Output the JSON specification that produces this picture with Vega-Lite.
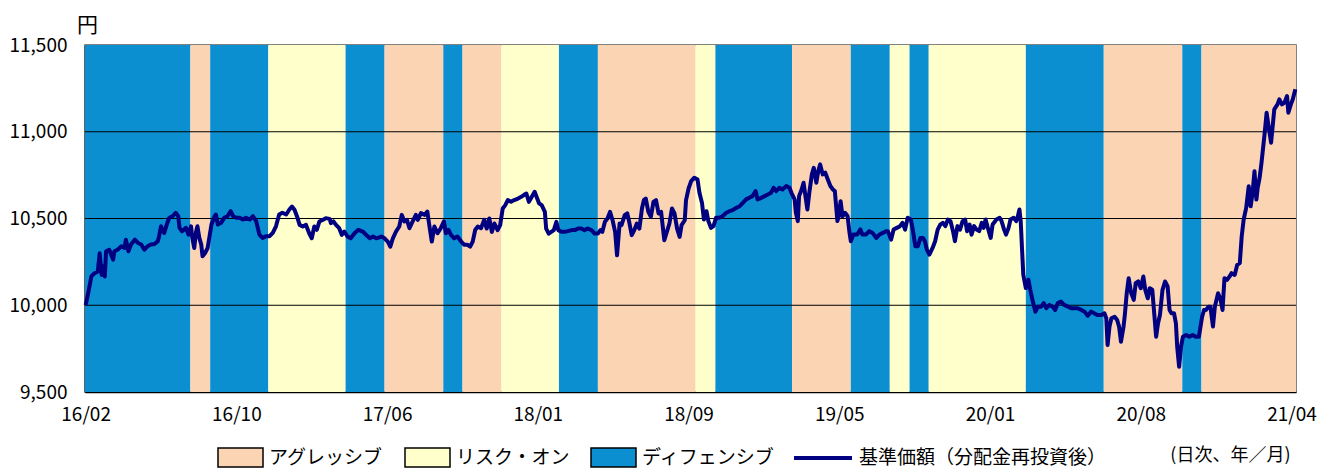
{
"$schema": "https://vega.github.io/schema/vega-lite/v6.json",
"width": 1211, "height": 347,
"autosize": {"type": "none"},
"padding": {"left": 85, "top": 45, "right": 27, "bottom": 77},
"background": "white",
"config": {"font": "Noto Sans CJK JP", "view": {"stroke": "#595959", "strokeWidth": 1.5}},
"datasets": {
"bands": [
{"start":"2016-02-18","end":"2016-08-01","regime":"ディフェンシブ"},
{"start":"2016-08-01","end":"2016-09-01","regime":"アグレッシブ"},
{"start":"2016-09-01","end":"2016-12-01","regime":"ディフェンシブ"},
{"start":"2016-12-01","end":"2017-04-01","regime":"リスク・オン"},
{"start":"2017-04-01","end":"2017-06-01","regime":"ディフェンシブ"},
{"start":"2017-06-01","end":"2017-09-01","regime":"アグレッシブ"},
{"start":"2017-09-01","end":"2017-10-01","regime":"ディフェンシブ"},
{"start":"2017-10-01","end":"2017-12-01","regime":"アグレッシブ"},
{"start":"2017-12-01","end":"2018-03-01","regime":"リスク・オン"},
{"start":"2018-03-01","end":"2018-05-01","regime":"ディフェンシブ"},
{"start":"2018-05-01","end":"2018-10-01","regime":"アグレッシブ"},
{"start":"2018-10-01","end":"2018-11-01","regime":"リスク・オン"},
{"start":"2018-11-01","end":"2019-03-01","regime":"ディフェンシブ"},
{"start":"2019-03-01","end":"2019-06-01","regime":"アグレッシブ"},
{"start":"2019-06-01","end":"2019-08-01","regime":"ディフェンシブ"},
{"start":"2019-08-01","end":"2019-09-01","regime":"リスク・オン"},
{"start":"2019-09-01","end":"2019-10-01","regime":"ディフェンシブ"},
{"start":"2019-10-01","end":"2020-03-01","regime":"リスク・オン"},
{"start":"2020-03-01","end":"2020-07-01","regime":"ディフェンシブ"},
{"start":"2020-07-01","end":"2020-11-01","regime":"アグレッシブ"},
{"start":"2020-11-01","end":"2020-12-01","regime":"ディフェンシブ"},
{"start":"2020-12-01","end":"2021-04-28","regime":"アグレッシブ"}
],
"grid": [{"v":10000},{"v":10500},{"v":11000}],
"nav": [
{"date":"2016-02-19","value":10000},{"date":"2016-02-23","value":10070},{"date":"2016-02-28","value":10166},{"date":"2016-03-04","value":10185},{"date":"2016-03-09","value":10195},{"date":"2016-03-12","value":10300},{"date":"2016-03-15","value":10175},{"date":"2016-03-17","value":10224},{"date":"2016-03-20","value":10166},{"date":"2016-03-22","value":10311},{"date":"2016-03-27","value":10320},{"date":"2016-04-02","value":10263},{"date":"2016-04-04","value":10311},{"date":"2016-04-09","value":10320},{"date":"2016-04-15","value":10340},{"date":"2016-04-20","value":10330},{"date":"2016-04-22","value":10378},{"date":"2016-04-26","value":10311},{"date":"2016-04-30","value":10350},{"date":"2016-05-06","value":10378},{"date":"2016-05-11","value":10359},{"date":"2016-05-16","value":10350},{"date":"2016-05-21","value":10320},{"date":"2016-05-26","value":10340},{"date":"2016-05-31","value":10350},{"date":"2016-06-06","value":10353},{"date":"2016-06-11","value":10369},{"date":"2016-06-13","value":10398},{"date":"2016-06-16","value":10455},{"date":"2016-06-18","value":10436},{"date":"2016-06-21","value":10417},{"date":"2016-06-25","value":10465},{"date":"2016-06-29","value":10504},{"date":"2016-07-04","value":10513},{"date":"2016-07-09","value":10533},{"date":"2016-07-13","value":10513},{"date":"2016-07-15","value":10446},{"date":"2016-07-19","value":10427},{"date":"2016-07-25","value":10446},{"date":"2016-07-29","value":10407},{"date":"2016-08-02","value":10455},{"date":"2016-08-04","value":10388},{"date":"2016-08-07","value":10330},{"date":"2016-08-10","value":10427},{"date":"2016-08-12","value":10455},{"date":"2016-08-15","value":10388},{"date":"2016-08-18","value":10350},{"date":"2016-08-20","value":10282},{"date":"2016-08-24","value":10301},{"date":"2016-08-28","value":10330},{"date":"2016-08-31","value":10398},{"date":"2016-09-03","value":10465},{"date":"2016-09-08","value":10513},{"date":"2016-09-10","value":10523},{"date":"2016-09-13","value":10465},{"date":"2016-09-18","value":10475},{"date":"2016-09-23","value":10504},{"date":"2016-09-28","value":10513},{"date":"2016-10-03","value":10542},{"date":"2016-10-07","value":10513},{"date":"2016-10-12","value":10504},{"date":"2016-10-17","value":10504},{"date":"2016-10-22","value":10494},{"date":"2016-10-27","value":10504},{"date":"2016-11-02","value":10494},{"date":"2016-11-07","value":10513},{"date":"2016-11-12","value":10485},{"date":"2016-11-17","value":10407},{"date":"2016-11-22","value":10388},{"date":"2016-11-28","value":10398},{"date":"2016-12-03","value":10398},{"date":"2016-12-08","value":10417},{"date":"2016-12-13","value":10455},{"date":"2016-12-18","value":10523},{"date":"2016-12-23","value":10533},{"date":"2016-12-29","value":10523},
{"date":"2017-01-03","value":10552},{"date":"2017-01-07","value":10569},{"date":"2017-01-11","value":10550},{"date":"2017-01-15","value":10512},{"date":"2017-01-19","value":10463},{"date":"2017-01-24","value":10454},{"date":"2017-01-29","value":10463},{"date":"2017-02-03","value":10415},{"date":"2017-02-07","value":10386},{"date":"2017-02-11","value":10454},{"date":"2017-02-15","value":10435},{"date":"2017-02-19","value":10483},{"date":"2017-02-24","value":10492},{"date":"2017-03-01","value":10502},{"date":"2017-03-07","value":10498},{"date":"2017-03-09","value":10473},{"date":"2017-03-13","value":10483},{"date":"2017-03-17","value":10463},{"date":"2017-03-22","value":10444},{"date":"2017-03-26","value":10406},{"date":"2017-03-30","value":10425},{"date":"2017-04-04","value":10396},{"date":"2017-04-09","value":10386},{"date":"2017-04-15","value":10415},{"date":"2017-04-21","value":10435},{"date":"2017-04-28","value":10425},{"date":"2017-05-03","value":10406},{"date":"2017-05-09","value":10386},{"date":"2017-05-14","value":10396},{"date":"2017-05-19","value":10386},{"date":"2017-05-27","value":10396},{"date":"2017-06-01","value":10386},{"date":"2017-06-06","value":10367},{"date":"2017-06-10","value":10338},{"date":"2017-06-14","value":10386},{"date":"2017-06-19","value":10425},{"date":"2017-06-24","value":10454},{"date":"2017-06-28","value":10521},{"date":"2017-07-02","value":10483},{"date":"2017-07-06","value":10492},{"date":"2017-07-10","value":10444},{"date":"2017-07-15","value":10483},{"date":"2017-07-20","value":10521},{"date":"2017-07-23","value":10492},{"date":"2017-07-28","value":10531},{"date":"2017-08-03","value":10521},{"date":"2017-08-07","value":10540},{"date":"2017-08-10","value":10463},{"date":"2017-08-14","value":10367},{"date":"2017-08-18","value":10454},{"date":"2017-08-23","value":10415},{"date":"2017-08-28","value":10444},{"date":"2017-09-02","value":10483},{"date":"2017-09-05","value":10415},{"date":"2017-09-09","value":10435},{"date":"2017-09-13","value":10406},{"date":"2017-09-18","value":10386},{"date":"2017-09-23","value":10396},{"date":"2017-09-29","value":10367},{"date":"2017-10-04","value":10348},{"date":"2017-10-09","value":10348},{"date":"2017-10-13","value":10338},{"date":"2017-10-17","value":10367},{"date":"2017-10-21","value":10435},{"date":"2017-10-25","value":10454},{"date":"2017-10-30","value":10444},{"date":"2017-11-04","value":10492},{"date":"2017-11-08","value":10442},{"date":"2017-11-12","value":10500},{"date":"2017-11-16","value":10423},{"date":"2017-11-20","value":10471},{"date":"2017-11-25","value":10433},{"date":"2017-11-29","value":10462},{"date":"2017-12-03","value":10558},{"date":"2017-12-07","value":10577},{"date":"2017-12-11","value":10606},{"date":"2017-12-16","value":10596},{"date":"2017-12-21","value":10606},{"date":"2017-12-27","value":10615},
{"date":"2018-01-01","value":10625},{"date":"2018-01-05","value":10635},{"date":"2018-01-09","value":10644},{"date":"2018-01-13","value":10596},{"date":"2018-01-16","value":10615},{"date":"2018-01-22","value":10654},{"date":"2018-01-26","value":10615},{"date":"2018-01-29","value":10587},{"date":"2018-02-02","value":10577},{"date":"2018-02-07","value":10538},{"date":"2018-02-09","value":10442},{"date":"2018-02-13","value":10413},{"date":"2018-02-17","value":10423},{"date":"2018-02-21","value":10433},{"date":"2018-02-25","value":10481},{"date":"2018-02-28","value":10433},{"date":"2018-03-05","value":10423},{"date":"2018-03-10","value":10423},{"date":"2018-03-15","value":10427},{"date":"2018-03-21","value":10433},{"date":"2018-03-26","value":10433},{"date":"2018-03-31","value":10442},{"date":"2018-04-05","value":10442},{"date":"2018-04-10","value":10433},{"date":"2018-04-15","value":10442},{"date":"2018-04-21","value":10433},{"date":"2018-04-26","value":10413},{"date":"2018-05-01","value":10413},{"date":"2018-05-05","value":10433},{"date":"2018-05-08","value":10423},{"date":"2018-05-12","value":10481},{"date":"2018-05-16","value":10500},{"date":"2018-05-20","value":10538},{"date":"2018-05-24","value":10490},{"date":"2018-05-28","value":10423},{"date":"2018-05-31","value":10288},{"date":"2018-06-04","value":10471},{"date":"2018-06-07","value":10462},{"date":"2018-06-12","value":10519},{"date":"2018-06-16","value":10529},{"date":"2018-06-19","value":10481},{"date":"2018-06-23","value":10404},{"date":"2018-06-27","value":10433},{"date":"2018-07-01","value":10471},{"date":"2018-07-05","value":10442},{"date":"2018-07-09","value":10558},{"date":"2018-07-12","value":10606},{"date":"2018-07-15","value":10615},{"date":"2018-07-19","value":10538},{"date":"2018-07-23","value":10510},{"date":"2018-07-27","value":10596},{"date":"2018-07-31","value":10606},{"date":"2018-08-04","value":10529},{"date":"2018-08-08","value":10538},{"date":"2018-08-13","value":10375},{"date":"2018-08-17","value":10423},{"date":"2018-08-21","value":10471},{"date":"2018-08-25","value":10558},{"date":"2018-08-29","value":10529},{"date":"2018-09-02","value":10442},{"date":"2018-09-06","value":10394},{"date":"2018-09-09","value":10462},{"date":"2018-09-14","value":10490},{"date":"2018-09-16","value":10606},{"date":"2018-09-20","value":10673},{"date":"2018-09-24","value":10715},{"date":"2018-09-29","value":10735},{"date":"2018-10-04","value":10725},{"date":"2018-10-07","value":10648},{"date":"2018-10-11","value":10590},{"date":"2018-10-14","value":10494},{"date":"2018-10-18","value":10542},{"date":"2018-10-21","value":10485},{"date":"2018-10-25","value":10446},{"date":"2018-10-29","value":10456},{"date":"2018-11-02","value":10504},{"date":"2018-11-07","value":10504},{"date":"2018-11-12","value":10513},{"date":"2018-11-18","value":10533},{"date":"2018-11-23","value":10542},{"date":"2018-11-28","value":10548},{"date":"2018-12-04","value":10562},{"date":"2018-12-09","value":10571},{"date":"2018-12-14","value":10590},{"date":"2018-12-19","value":10610},{"date":"2018-12-24","value":10619},{"date":"2018-12-29","value":10629},
{"date":"2019-01-03","value":10658},{"date":"2019-01-06","value":10610},{"date":"2019-01-12","value":10619},{"date":"2019-01-17","value":10629},{"date":"2019-01-22","value":10638},{"date":"2019-01-27","value":10648},{"date":"2019-01-31","value":10677},{"date":"2019-02-04","value":10658},{"date":"2019-02-09","value":10677},{"date":"2019-02-14","value":10667},{"date":"2019-02-20","value":10687},{"date":"2019-02-25","value":10677},{"date":"2019-02-28","value":10648},{"date":"2019-03-05","value":10610},{"date":"2019-03-07","value":10533},{"date":"2019-03-10","value":10485},{"date":"2019-03-12","value":10629},{"date":"2019-03-16","value":10667},{"date":"2019-03-19","value":10706},{"date":"2019-03-22","value":10629},{"date":"2019-03-25","value":10552},{"date":"2019-03-28","value":10648},{"date":"2019-04-01","value":10754},{"date":"2019-04-04","value":10792},{"date":"2019-04-08","value":10706},{"date":"2019-04-11","value":10773},{"date":"2019-04-14","value":10812},{"date":"2019-04-18","value":10754},{"date":"2019-04-22","value":10764},{"date":"2019-04-26","value":10725},{"date":"2019-04-30","value":10687},{"date":"2019-05-04","value":10667},{"date":"2019-05-07","value":10658},{"date":"2019-05-11","value":10485},{"date":"2019-05-13","value":10513},{"date":"2019-05-16","value":10600},{"date":"2019-05-19","value":10513},{"date":"2019-05-23","value":10533},{"date":"2019-05-27","value":10513},{"date":"2019-05-30","value":10417},{"date":"2019-06-01","value":10369},{"date":"2019-06-05","value":10408},{"date":"2019-06-11","value":10408},{"date":"2019-06-16","value":10437},{"date":"2019-06-19","value":10408},{"date":"2019-06-25","value":10408},{"date":"2019-06-30","value":10427},{"date":"2019-07-05","value":10417},{"date":"2019-07-11","value":10388},{"date":"2019-07-16","value":10408},{"date":"2019-07-21","value":10417},{"date":"2019-07-26","value":10427},{"date":"2019-07-29","value":10427},{"date":"2019-08-03","value":10378},{"date":"2019-08-07","value":10436},{"date":"2019-08-12","value":10446},{"date":"2019-08-17","value":10456},{"date":"2019-08-21","value":10475},{"date":"2019-08-25","value":10436},{"date":"2019-08-29","value":10504},{"date":"2019-09-03","value":10494},{"date":"2019-09-06","value":10436},{"date":"2019-09-10","value":10340},{"date":"2019-09-14","value":10340},{"date":"2019-09-18","value":10388},{"date":"2019-09-22","value":10388},{"date":"2019-09-25","value":10369},{"date":"2019-09-28","value":10321},{"date":"2019-10-02","value":10292},{"date":"2019-10-07","value":10330},{"date":"2019-10-11","value":10369},{"date":"2019-10-15","value":10436},{"date":"2019-10-19","value":10465},{"date":"2019-10-23","value":10475},{"date":"2019-10-27","value":10456},{"date":"2019-10-31","value":10494},{"date":"2019-11-04","value":10485},{"date":"2019-11-08","value":10427},{"date":"2019-11-11","value":10369},{"date":"2019-11-15","value":10456},{"date":"2019-11-19","value":10436},{"date":"2019-11-23","value":10485},{"date":"2019-11-27","value":10494},{"date":"2019-11-30","value":10427},{"date":"2019-12-04","value":10465},{"date":"2019-12-07","value":10407},{"date":"2019-12-11","value":10456},{"date":"2019-12-15","value":10436},{"date":"2019-12-19","value":10427},{"date":"2019-12-23","value":10475},{"date":"2019-12-26","value":10446},{"date":"2019-12-29","value":10494},
{"date":"2020-01-03","value":10427},{"date":"2020-01-06","value":10388},{"date":"2020-01-09","value":10465},{"date":"2020-01-15","value":10494},{"date":"2020-01-20","value":10504},{"date":"2020-01-23","value":10485},{"date":"2020-01-27","value":10436},{"date":"2020-01-30","value":10407},{"date":"2020-02-03","value":10446},{"date":"2020-02-06","value":10494},{"date":"2020-02-11","value":10504},{"date":"2020-02-15","value":10485},{"date":"2020-02-17","value":10504},{"date":"2020-02-20","value":10552},{"date":"2020-02-22","value":10485},{"date":"2020-02-24","value":10330},{"date":"2020-02-26","value":10176},{"date":"2020-03-01","value":10099},{"date":"2020-03-05","value":10147},{"date":"2020-03-08","value":10089},{"date":"2020-03-12","value":10021},{"date":"2020-03-16","value":9963},{"date":"2020-03-20","value":9992},{"date":"2020-03-25","value":9992},{"date":"2020-03-29","value":10012},{"date":"2020-04-02","value":9983},{"date":"2020-04-07","value":10002},{"date":"2020-04-12","value":9992},{"date":"2020-04-16","value":9973},{"date":"2020-04-20","value":10012},{"date":"2020-04-25","value":10021},{"date":"2020-04-30","value":10002},{"date":"2020-05-06","value":9992},{"date":"2020-05-11","value":9983},{"date":"2020-05-16","value":9983},{"date":"2020-05-21","value":9983},{"date":"2020-05-27","value":9973},{"date":"2020-06-01","value":9963},{"date":"2020-06-06","value":9940},{"date":"2020-06-11","value":9963},{"date":"2020-06-16","value":9954},{"date":"2020-06-21","value":9944},{"date":"2020-06-27","value":9944},{"date":"2020-07-02","value":9954},{"date":"2020-07-05","value":9925},{"date":"2020-07-07","value":9771},{"date":"2020-07-10","value":9877},{"date":"2020-07-13","value":9925},{"date":"2020-07-18","value":9934},{"date":"2020-07-22","value":9915},{"date":"2020-07-25","value":9877},{"date":"2020-07-28","value":9790},{"date":"2020-08-01","value":9877},{"date":"2020-08-03","value":9944},{"date":"2020-08-06","value":10069},{"date":"2020-08-09","value":10156},{"date":"2020-08-13","value":10069},{"date":"2020-08-17","value":10031},{"date":"2020-08-20","value":10127},{"date":"2020-08-24","value":10137},{"date":"2020-08-28","value":10098},{"date":"2020-09-01","value":10166},{"date":"2020-09-04","value":10089},{"date":"2020-09-08","value":10040},{"date":"2020-09-11","value":10098},{"date":"2020-09-15","value":10089},{"date":"2020-09-18","value":9954},{"date":"2020-09-21","value":9819},{"date":"2020-09-24","value":9896},{"date":"2020-09-27","value":9944},{"date":"2020-10-01","value":10089},{"date":"2020-10-05","value":10137},{"date":"2020-10-09","value":10108},{"date":"2020-10-12","value":9973},{"date":"2020-10-15","value":9954},{"date":"2020-10-19","value":9954},{"date":"2020-10-22","value":9896},{"date":"2020-10-24","value":9761},{"date":"2020-10-27","value":9645},{"date":"2020-10-30","value":9761},{"date":"2020-11-02","value":9819},{"date":"2020-11-07","value":9829},{"date":"2020-11-12","value":9819},{"date":"2020-11-17","value":9829},{"date":"2020-11-22","value":9819},{"date":"2020-11-27","value":9819},{"date":"2020-12-02","value":9934},{"date":"2020-12-05","value":9973},{"date":"2020-12-08","value":9973},{"date":"2020-12-12","value":9992},{"date":"2020-12-15","value":9992},{"date":"2020-12-19","value":9877},{"date":"2020-12-22","value":9992},{"date":"2020-12-27","value":10069},{"date":"2020-12-31","value":10031},
{"date":"2021-01-03","value":9973},{"date":"2021-01-06","value":10156},{"date":"2021-01-10","value":10146},{"date":"2021-01-14","value":10166},{"date":"2021-01-17","value":10185},{"date":"2021-01-22","value":10175},{"date":"2021-01-26","value":10233},{"date":"2021-01-30","value":10243},{"date":"2021-02-02","value":10397},{"date":"2021-02-05","value":10493},{"date":"2021-02-09","value":10561},{"date":"2021-02-13","value":10686},{"date":"2021-02-16","value":10570},{"date":"2021-02-19","value":10647},{"date":"2021-02-22","value":10773},{"date":"2021-02-25","value":10609},{"date":"2021-02-27","value":10676},{"date":"2021-03-02","value":10734},{"date":"2021-03-05","value":10821},{"date":"2021-03-10","value":10994},{"date":"2021-03-13","value":11110},{"date":"2021-03-16","value":11033},{"date":"2021-03-20","value":10937},{"date":"2021-03-23","value":11052},{"date":"2021-03-25","value":11129},{"date":"2021-03-30","value":11158},{"date":"2021-04-02","value":11187},{"date":"2021-04-06","value":11158},{"date":"2021-04-10","value":11168},{"date":"2021-04-14","value":11206},{"date":"2021-04-16","value":11110},{"date":"2021-04-20","value":11158},{"date":"2021-04-23","value":11187},{"date":"2021-04-27","value":11245}
]
},
"layer": [
{
"data": {"name": "bands"},
"mark": {"type": "rect", "strokeWidth": 0},
"encoding": {
"x": {"field": "start", "type": "temporal",
"scale": {"type": "utc", "domain": [{"year":2016,"month":2,"date":18,"utc":true},{"year":2021,"month":4,"date":28,"utc":true}]},
"axis": {"values": [
{"year":2016,"month":2,"date":19,"utc":true},{"year":2016,"month":10,"date":12,"utc":true},{"year":2017,"month":6,"date":5,"utc":true},{"year":2018,"month":1,"date":27,"utc":true},{"year":2018,"month":9,"date":20,"utc":true},{"year":2019,"month":5,"date":14,"utc":true},{"year":2020,"month":1,"date":5,"utc":true},{"year":2020,"month":8,"date":28,"utc":true},{"year":2021,"month":4,"date":21,"utc":true}],
"format": "%y/%m", "ticks": false, "grid": false, "domainColor": "black", "domainWidth": 1.5,
"labelFontSize": 19, "labelColor": "black", "labelPadding": 13, "labelOverlap": false, "labelBound": false, "labelFlush": false,
"title": "(日次、年／月)", "titleFontSize": 18, "titleFontWeight": "normal", "titleColor": "black",
"titleAnchor": "start", "titleAlign": "right", "titleX": 1205, "titleY": 68, "titleBaseline": "alphabetic"}},
"x2": {"field": "end"},
"color": {"field": "regime", "type": "nominal",
"scale": {"domain": ["アグレッシブ","リスク・オン","ディフェンシブ"], "range": ["#FBD4B4","#FFFFCC","#0B8FD1"]},
"legend": {"orient": "none", "legendX": 132, "legendY": 389, "direction": "horizontal", "title": null,
"symbolType": "M-1,-0.42H1V0.42H-1Z", "symbolSize": 2025, "symbolStrokeColor": "black", "symbolStrokeWidth": 1.5, "symbolOpacity": 1,
"labelFontSize": 19, "labelColor": "black", "labelOffset": 5, "columnPadding": 18, "padding": 0, "labelLimit": 400}}
}
},
{
"data": {"name": "grid"},
"mark": {"type": "rule", "color": "black", "strokeWidth": 1},
"encoding": {
"y": {"field": "v", "type": "quantitative",
"scale": {"domain": [9500, 11500], "nice": false},
"axis": {"values": [9500,10000,10500,11000,11500], "format": ",.0f", "ticks": false, "grid": false, "domainColor": "black", "domainWidth": 1.5,
"labelFontSize": 19, "labelColor": "black", "labelPadding": 18,
"title": "円", "titleAngle": 0, "titleX": 2, "titleY": -14, "titleAlign": "center", "titleBaseline": "alphabetic", "titleFontSize": 21, "titleFontWeight": "normal", "titleColor": "black"}}
}
},
{
"data": {"name": "nav"},
"mark": {"type": "line", "strokeWidth": 4, "strokeJoin": "round"},
"encoding": {
"x": {"field": "date", "type": "temporal"},
"y": {"field": "value", "type": "quantitative"},
"stroke": {"datum": "基準価額（分配金再投資後）", "type": "nominal", "scale": {"range": ["#000080"]},
"legend": {"orient": "none", "legendX": 707, "legendY": 382, "title": null, "symbolType": "stroke", "symbolSize": 3364, "symbolStrokeWidth": 4, "symbolStrokeColor": "#000080", "symbolOpacity": 1,
"labelFontSize": 19, "labelColor": "black", "labelOffset": 5, "padding": 0, "labelLimit": 400}}
}
}
]
}
